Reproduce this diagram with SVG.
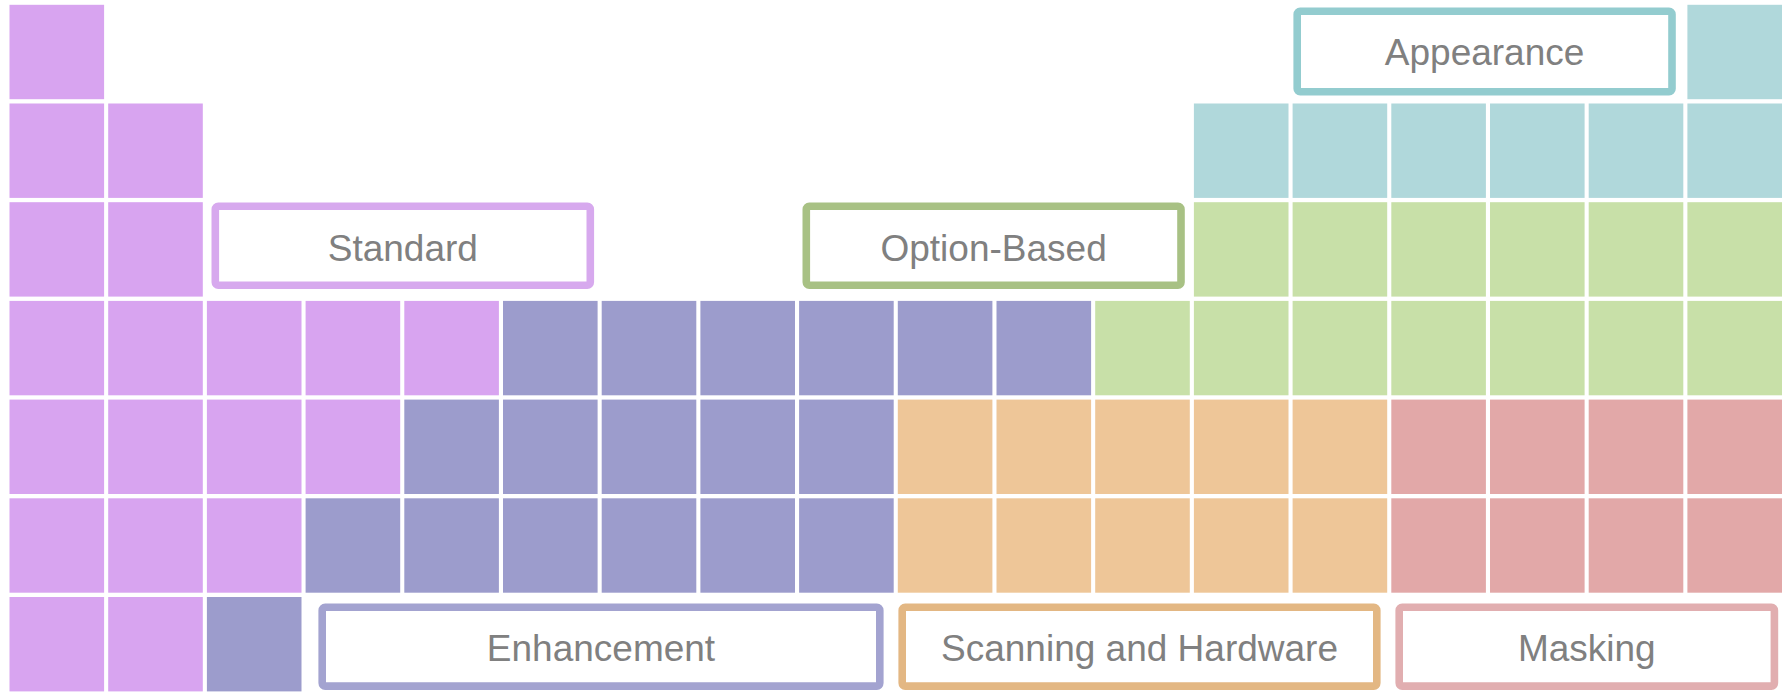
<svg xmlns="http://www.w3.org/2000/svg" width="1788" height="692" viewBox="0 0 1788 692">
<style>
.c{width:94.6px;height:94.4px}
.p{fill:#d8a4f0}.b{fill:#9c9ccc}.t{fill:#b0d8db}.g{fill:#c8e0a8}.o{fill:#eec698}.r{fill:#e2a8a8}
.box{fill:#ffffff;stroke-width:7.6}
.lbl{font-family:"Liberation Sans",Arial,sans-serif;font-size:37px;fill:#808080;text-anchor:middle}
</style>
<rect width="1788" height="692" fill="#ffffff"/>
<g id="cells-standard" class="p">
<rect x="9.5" y="4.8" width="94.6" height="94.4"/>
<rect x="9.5" y="103.5" width="94.6" height="94.4"/><rect x="108.2" y="103.5" width="94.6" height="94.4"/>
<rect x="9.5" y="202.2" width="94.6" height="94.4"/><rect x="108.2" y="202.2" width="94.6" height="94.4"/>
<rect x="9.5" y="300.9" width="94.6" height="94.4"/><rect x="108.2" y="300.9" width="94.6" height="94.4"/><rect x="206.9" y="300.9" width="94.6" height="94.4"/><rect x="305.6" y="300.9" width="94.6" height="94.4"/><rect x="404.3" y="300.9" width="94.6" height="94.4"/>
<rect x="9.5" y="399.6" width="94.6" height="94.4"/><rect x="108.2" y="399.6" width="94.6" height="94.4"/><rect x="206.9" y="399.6" width="94.6" height="94.4"/><rect x="305.6" y="399.6" width="94.6" height="94.4"/>
<rect x="9.5" y="498.3" width="94.6" height="94.4"/><rect x="108.2" y="498.3" width="94.6" height="94.4"/><rect x="206.9" y="498.3" width="94.6" height="94.4"/>
<rect x="9.5" y="597" width="94.6" height="94.4"/><rect x="108.2" y="597" width="94.6" height="94.4"/>
</g>
<g id="cells-enhancement" class="b">
<rect x="503" y="300.9" width="94.6" height="94.4"/><rect x="601.7" y="300.9" width="94.6" height="94.4"/><rect x="700.4" y="300.9" width="94.6" height="94.4"/><rect x="799.1" y="300.9" width="94.6" height="94.4"/><rect x="897.8" y="300.9" width="94.6" height="94.4"/><rect x="996.5" y="300.9" width="94.6" height="94.4"/>
<rect x="404.3" y="399.6" width="94.6" height="94.4"/><rect x="503" y="399.6" width="94.6" height="94.4"/><rect x="601.7" y="399.6" width="94.6" height="94.4"/><rect x="700.4" y="399.6" width="94.6" height="94.4"/><rect x="799.1" y="399.6" width="94.6" height="94.4"/>
<rect x="305.6" y="498.3" width="94.6" height="94.4"/><rect x="404.3" y="498.3" width="94.6" height="94.4"/><rect x="503" y="498.3" width="94.6" height="94.4"/><rect x="601.7" y="498.3" width="94.6" height="94.4"/><rect x="700.4" y="498.3" width="94.6" height="94.4"/><rect x="799.1" y="498.3" width="94.6" height="94.4"/>
<rect x="206.9" y="597" width="94.6" height="94.4"/>
</g>
<g id="cells-appearance" class="t">
<rect x="1687.4" y="4.8" width="94.6" height="94.4"/>
<rect x="1193.9" y="103.5" width="94.6" height="94.4"/><rect x="1292.6" y="103.5" width="94.6" height="94.4"/><rect x="1391.3" y="103.5" width="94.6" height="94.4"/><rect x="1490" y="103.5" width="94.6" height="94.4"/><rect x="1588.7" y="103.5" width="94.6" height="94.4"/><rect x="1687.4" y="103.5" width="94.6" height="94.4"/>
</g>
<g id="cells-option" class="g">
<rect x="1193.9" y="202.2" width="94.6" height="94.4"/><rect x="1292.6" y="202.2" width="94.6" height="94.4"/><rect x="1391.3" y="202.2" width="94.6" height="94.4"/><rect x="1490" y="202.2" width="94.6" height="94.4"/><rect x="1588.7" y="202.2" width="94.6" height="94.4"/><rect x="1687.4" y="202.2" width="94.6" height="94.4"/>
<rect x="1095.2" y="300.9" width="94.6" height="94.4"/><rect x="1193.9" y="300.9" width="94.6" height="94.4"/><rect x="1292.6" y="300.9" width="94.6" height="94.4"/><rect x="1391.3" y="300.9" width="94.6" height="94.4"/><rect x="1490" y="300.9" width="94.6" height="94.4"/><rect x="1588.7" y="300.9" width="94.6" height="94.4"/><rect x="1687.4" y="300.9" width="94.6" height="94.4"/>
</g>
<g id="cells-scanning" class="o">
<rect x="897.8" y="399.6" width="94.6" height="94.4"/><rect x="996.5" y="399.6" width="94.6" height="94.4"/><rect x="1095.2" y="399.6" width="94.6" height="94.4"/><rect x="1193.9" y="399.6" width="94.6" height="94.4"/><rect x="1292.6" y="399.6" width="94.6" height="94.4"/>
<rect x="897.8" y="498.3" width="94.6" height="94.4"/><rect x="996.5" y="498.3" width="94.6" height="94.4"/><rect x="1095.2" y="498.3" width="94.6" height="94.4"/><rect x="1193.9" y="498.3" width="94.6" height="94.4"/><rect x="1292.6" y="498.3" width="94.6" height="94.4"/>
</g>
<g id="cells-masking" class="r">
<rect x="1391.3" y="399.6" width="94.6" height="94.4"/><rect x="1490" y="399.6" width="94.6" height="94.4"/><rect x="1588.7" y="399.6" width="94.6" height="94.4"/><rect x="1687.4" y="399.6" width="94.6" height="94.4"/>
<rect x="1391.3" y="498.3" width="94.6" height="94.4"/><rect x="1490" y="498.3" width="94.6" height="94.4"/><rect x="1588.7" y="498.3" width="94.6" height="94.4"/><rect x="1687.4" y="498.3" width="94.6" height="94.4"/>
</g>
<g id="label-standard">
<rect class="box" x="215.3" y="206.3" width="375" height="79" rx="3" stroke="#d7a9ee"/>
<text class="lbl" x="402.8" y="260.5">Standard</text>
</g>
<g id="label-option">
<rect class="box" x="806.3" y="206.3" width="374.7" height="79" rx="3" stroke="#a8c184"/>
<text class="lbl" x="993.6" y="260.5">Option-Based</text>
</g>
<g id="label-appearance">
<rect class="box" x="1297.2" y="11.2" width="374.8" height="80.5" rx="3" stroke="#93cccf"/>
<text class="lbl" x="1484.6" y="65">Appearance</text>
</g>
<g id="label-enhancement">
<rect class="box" x="322.2" y="607.2" width="557.6" height="78.9" rx="3" stroke="#a3a3d0"/>
<text class="lbl" x="601" y="660.5">Enhancement</text>
</g>
<g id="label-scanning">
<rect class="box" x="902.2" y="607.2" width="474.6" height="78.9" rx="3" stroke="#e3b783"/>
<text class="lbl" x="1139.5" y="660.5">Scanning and Hardware</text>
</g>
<g id="label-masking">
<rect class="box" x="1399.2" y="607.2" width="375.2" height="78.9" rx="3" stroke="#e1aeb0"/>
<text class="lbl" x="1586.8" y="660.5">Masking</text>
</g>
<g id="connectors"/>
</svg>
